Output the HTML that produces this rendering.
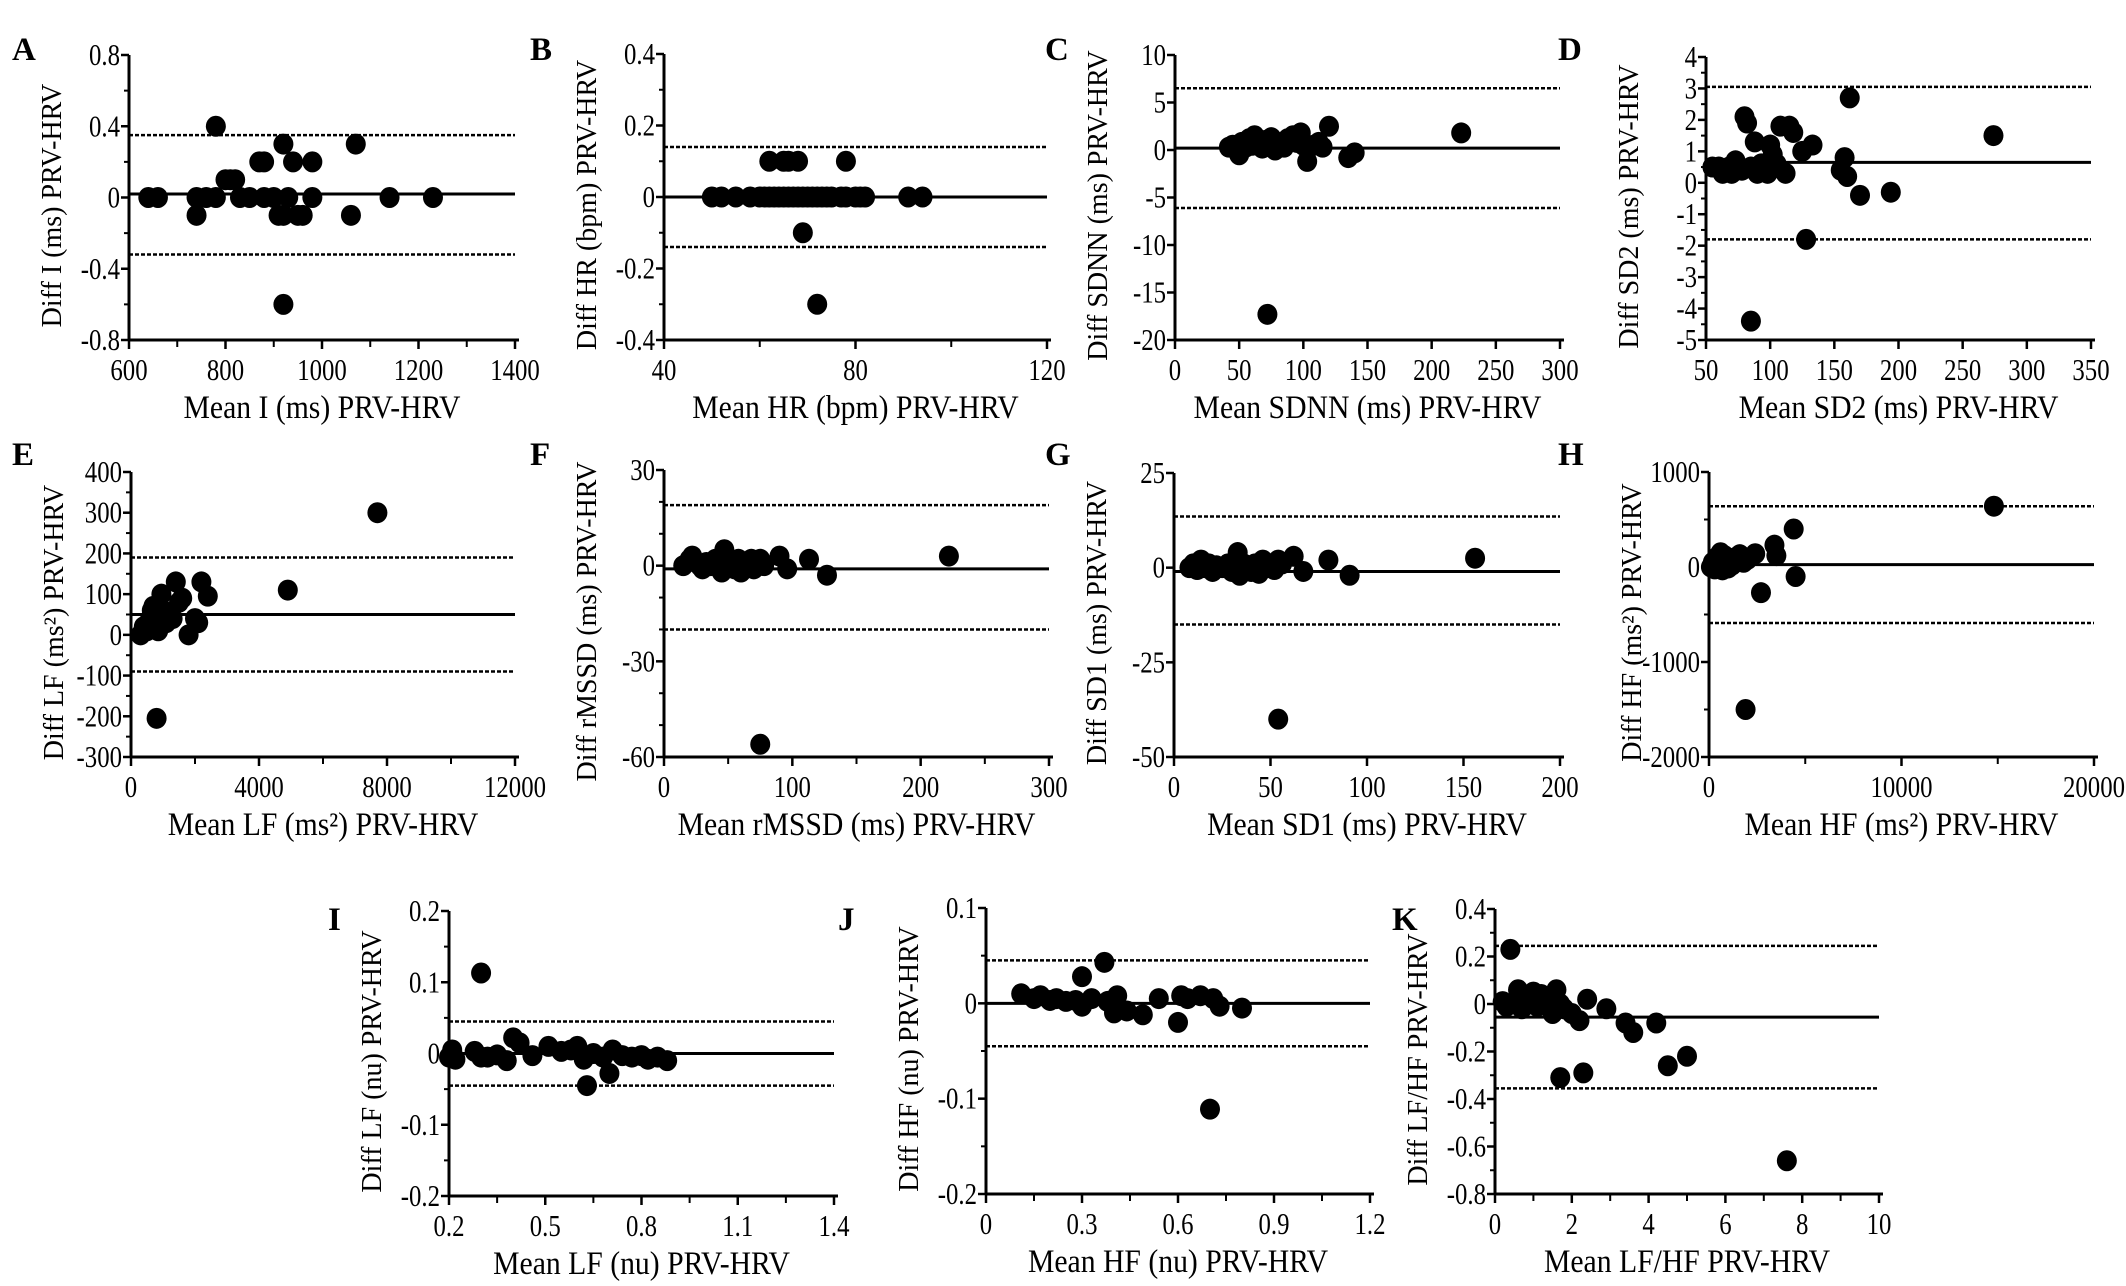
<!DOCTYPE html>
<html><head><meta charset="utf-8"><style>
html,body{margin:0;padding:0;background:#fff;}
svg{display:block;font-family:"Liberation Serif",serif;}
</style></head><body>
<svg id="fig" width="2126" height="1286" viewBox="0 0 2126 1286" xmlns="http://www.w3.org/2000/svg"></svg>
<script>
// ---- data arrays ----
const A_x=[640,660,740,740,760,780,780,800,810,820,830,850,870,880,880,900,910,920,920,930,940,950,960,980,980,920,1060,1070,1140,1230];
const A_y=[0,0,0,-0.1,0,0,0.4,0.1,0.1,0.1,0,0,0.2,0.2,0,0,-0.1,0.3,-0.1,0,0.2,-0.1,-0.1,0.2,0,-0.6,-0.1,0.3,0,0];
const A_lines=[0.02,0.35,-0.32];
const A_xTicks=[600,800,1000,1200,1400];
const A_yTicks=[-0.8,-0.4,0,0.4,0.8];

const B_x=[50,52,55,58,60,61,62,63,64,65,66,67,68,69,70,71,72,73,74,75,77,78,80,81,82,91,94,62,65,66,68,78,69,72];
const B_y=[0,0,0,0,0,0,0,0,0,0,0,0,0,0,0,0,0,0,0,0,0,0,0,0,0,0,0,0.1,0.1,0.1,0.1,0.1,-0.1,-0.3];
const B_lines=[0,0.14,-0.14];
const B_xTicks=[40,80,120];
const B_yTicks=[-0.4,-0.2,0,0.2,0.4];

const C_x=[42,45,48,50,52,55,58,60,62,65,68,70,72,75,78,80,85,88,92,95,98,100,103,108,112,115,120,135,140,72,223];
const C_y=[0.3,0.5,0.2,-0.5,0.8,0.3,1.2,0.5,1.5,0.8,0.2,1.0,0.5,1.3,0,0.8,0.3,1.2,1.5,0.8,1.8,0.5,-1.2,0.5,0.8,0.3,2.5,-0.8,-0.3,-17.3,1.8];
const C_lines=[0.2,6.5,-6.1];
const C_xTicks=[0,50,100,150,200,250,300];
const C_yTicks=[-20,-15,-10,-5,0,5,10];

const D_x=[55,60,63,68,70,73,78,80,82,85,88,90,93,95,98,100,102,105,108,112,115,118,125,133,155,158,160,162,170,194,128,85,274];
const D_y=[0.5,0.5,0.3,0.5,0.3,0.7,0.4,2.1,1.9,0.5,1.3,0.3,0.6,0.5,0.3,1.2,0.9,0.6,1.8,0.3,1.8,1.6,1.0,1.2,0.4,0.8,0.2,2.7,-0.4,-0.3,-1.8,-4.4,1.5];
const D_lines=[0.65,3.05,-1.8];
const D_xTicks=[50,100,150,200,250,300,350];
const D_yTicks=[-5,-4,-3,-2,-1,0,1,2,3,4];

const E_x=[300,400,500,600,650,700,750,800,850,900,950,1000,1100,1200,1300,1400,1500,1600,1800,2000,2100,2200,2400,4900,7700,800];
const E_y=[0,20,10,40,60,70,30,50,10,40,100,60,30,50,40,130,80,90,0,40,30,130,95,110,300,-205];
const E_lines=[50,190,-90];
const E_xTicks=[0,4000,8000,12000];
const E_yTicks=[-300,-200,-100,0,100,200,300,400];

const F_x=[15,20,22,25,28,30,33,36,40,42,45,47,48,50,52,55,58,60,62,65,68,70,72,75,78,90,96,113,127,222,75];
const F_y=[0,2,3,1,0,-1,1,0,2,0,-2,5,2,0,1,-1,2,-2,1,0,2,-1,1,2,0,3,-1,2,-3,3,-56];
const F_lines=[-1,19,-20];
const F_xTicks=[0,100,200,300];
const F_yTicks=[-60,-30,0,30];

const G_x=[8,10,12,14,16,18,20,22,25,28,30,32,33,34,36,38,40,42,44,46,48,50,52,54,56,62,67,80,91,156,54];
const G_y=[0,1,-0.5,2,0,1,-1,0.5,0,1,-1,2,4,-2,1,0,-1,1,-1.5,2,0,1,-0.5,2,1,3,-1,2,-2,2.5,-40];
const G_lines=[-1,13.5,-15];
const G_xTicks=[0,50,100,150,200];
const G_yTicks=[-50,-25,0,25];

const H_x=[100,200,300,400,500,600,700,800,900,1000,1100,1200,1400,1600,1800,2000,2400,2700,3400,3500,4400,4500,14800,1900];
const H_y=[0,50,-20,100,30,150,-30,120,40,-10,80,20,100,130,50,80,140,-270,230,120,400,-100,640,-1500];
const H_lines=[25,640,-590];
const H_xTicks=[0,10000,20000];
const H_yTicks=[-2000,-1000,0,1000];

const I_x=[0.2,0.21,0.22,0.28,0.3,0.3,0.32,0.35,0.38,0.4,0.42,0.46,0.51,0.55,0.58,0.6,0.62,0.63,0.65,0.68,0.7,0.71,0.74,0.77,0.8,0.82,0.85,0.88];
const I_y=[-0.005,0.005,-0.008,0.003,-0.005,0.113,-0.005,-0.002,-0.01,0.022,0.015,-0.003,0.01,0.003,0.005,0.01,-0.008,-0.045,0,-0.005,-0.028,0.005,-0.003,-0.005,-0.003,-0.008,-0.005,-0.01];
const I_lines=[0,0.045,-0.045];
const I_xTicks=[0.2,0.5,0.8,1.1,1.4];
const I_yTicks=[-0.2,-0.1,0,0.1,0.2];

const J_x=[0.11,0.15,0.17,0.2,0.22,0.25,0.28,0.3,0.3,0.33,0.37,0.38,0.4,0.41,0.44,0.49,0.54,0.6,0.61,0.63,0.67,0.71,0.73,0.8,0.7];
const J_y=[0.01,0.005,0.008,0.003,0.005,0.002,0.003,0.028,-0.003,0.005,0.043,0.002,-0.01,0.008,-0.008,-0.012,0.005,-0.02,0.008,0.005,0.008,0.005,-0.003,-0.005,-0.111];
const J_lines=[0,0.045,-0.045];
const J_xTicks=[0,0.3,0.6,0.9,1.2];
const J_yTicks=[-0.2,-0.1,0,0.1];

const K_x=[0.2,0.3,0.4,0.5,0.6,0.7,0.8,0.9,1.0,1.1,1.2,1.4,1.5,1.6,1.7,1.8,2.0,2.2,2.4,2.9,3.4,3.6,4.2,4.5,5.0,1.7,2.3,7.6];
const K_y=[0.01,-0.01,0.23,0,0.06,-0.02,0.03,0,0.05,-0.01,0.04,0.03,-0.04,0.06,0,-0.02,-0.04,-0.07,0.02,-0.02,-0.08,-0.12,-0.08,-0.26,-0.22,-0.31,-0.29,-0.66];
const K_lines=[-0.055,0.245,-0.355];
const K_xTicks=[0,2,4,6,8,10];
const K_yTicks=[-0.8,-0.6,-0.4,-0.2,0,0.2,0.4];

// ---- layout ----
const panels=[
 {id:'a',L:'A',lx:12,ly:60,x0:129,x1:515,y0:55,y1:340,xs:A_x,ys:A_y,ln:A_lines,xt:A_xTicks,yt:A_yTicks,xm:2,ym:2,xl:'Mean I (ms) PRV-HRV',yl:'Diff I (ms) PRV-HRV'},
 {id:'b',L:'B',lx:530,ly:60,x0:664,x1:1047,y0:54,y1:340,xs:B_x,ys:B_y,ln:B_lines,xt:B_xTicks,yt:B_yTicks,xm:2,ym:2,xl:'Mean HR (bpm) PRV-HRV',yl:'Diff HR (bpm) PRV-HRV'},
 {id:'c',L:'C',lx:1045,ly:60,x0:1175,x1:1560,y0:55,y1:340,xs:C_x,ys:C_y,ln:C_lines,xt:C_xTicks,yt:C_yTicks,xm:1,ym:1,xl:'Mean SDNN (ms) PRV-HRV',yl:'Diff SDNN (ms) PRV-HRV'},
 {id:'d',L:'D',lx:1558,ly:60,x0:1706,x1:2091,y0:57,y1:340,xs:D_x,ys:D_y,ln:D_lines,xt:D_xTicks,yt:D_yTicks,xm:1,ym:2,xl:'Mean SD2 (ms) PRV-HRV',yl:'Diff SD2 (ms) PRV-HRV'},
 {id:'e',L:'E',lx:12,ly:465,x0:131,x1:515,y0:472,y1:757,xs:E_x,ys:E_y,ln:E_lines,xt:E_xTicks,yt:E_yTicks,xm:2,ym:2,xl:'Mean LF (ms²) PRV-HRV',yl:'Diff LF (ms²) PRV-HRV'},
 {id:'f',L:'F',lx:530,ly:465,x0:664,x1:1049,y0:470,y1:757,xs:F_x,ys:F_y,ln:F_lines,xt:F_xTicks,yt:F_yTicks,xm:2,ym:3,xl:'Mean rMSSD (ms) PRV-HRV',yl:'Diff rMSSD (ms) PRV-HRV'},
 {id:'g',L:'G',lx:1045,ly:465,x0:1174,x1:1560,y0:473,y1:757,xs:G_x,ys:G_y,ln:G_lines,xt:G_xTicks,yt:G_yTicks,xm:1,ym:1,xl:'Mean SD1 (ms) PRV-HRV',yl:'Diff SD1 (ms) PRV-HRV'},
 {id:'h',L:'H',lx:1558,ly:465,x0:1709,x1:2094,y0:472,y1:757,xs:H_x,ys:H_y,ln:H_lines,xt:H_xTicks,yt:H_yTicks,xm:2,ym:2,xl:'Mean HF (ms²) PRV-HRV',yl:'Diff HF (ms²) PRV-HRV'},
 {id:'i',L:'I',lx:328,ly:930,x0:449,x1:834,y0:911,y1:1196,xs:I_x,ys:I_y,ln:I_lines,xt:I_xTicks,yt:I_yTicks,xm:2,ym:2,xl:'Mean LF (nu) PRV-HRV',yl:'Diff LF (nu) PRV-HRV'},
 {id:'j',L:'J',lx:838,ly:930,x0:986,x1:1370,y0:908,y1:1194,xs:J_x,ys:J_y,ln:J_lines,xt:J_xTicks,yt:J_yTicks,xm:2,ym:2,xl:'Mean HF (nu) PRV-HRV',yl:'Diff HF (nu) PRV-HRV'},
 {id:'k',L:'K',lx:1392,ly:930,x0:1495,x1:1879,y0:909,y1:1194,xs:K_x,ys:K_y,ln:K_lines,xt:K_xTicks,yt:K_yTicks,xm:2,ym:2,xl:'Mean LF/HF PRV-HRV',yl:'Diff LF/HF PRV-HRV'}
];
const NS='http://www.w3.org/2000/svg';
const svg=document.getElementById('fig');
function mk(tag,attrs,parent){const e=document.createElementNS(NS,tag);for(const k in attrs)e.setAttribute(k,attrs[k]);(parent||svg).appendChild(e);return e;}
function fmt(v){return String(Math.round(v*1000)/1000);}
panels.forEach(p=>{
  const g=mk('g',{});
  
  
  const xmin=p.xt[0],xmax=p.xt[p.xt.length-1],ymin=p.yt[0],ymax=p.yt[p.yt.length-1];
  const sx=v=>p.x0+(v-xmin)/(xmax-xmin)*(p.x1-p.x0);
  const sy=v=>p.y1-(v-ymin)/(ymax-ymin)*(p.y1-p.y0);
  const L=mk('text',{x:p.lx,y:p.ly,'font-size':33,'font-weight':'bold'},g);L.textContent=p.L;
  
  
  const ya=mk('line',{x1:p.x0,y1:p.y0,x2:p.x0,y2:p.y1,stroke:'#000','stroke-width':3},g);
  
  
  const xa=mk('line',{x1:p.x0,y1:p.y1,x2:p.x1+4,y2:p.y1,stroke:'#000','stroke-width':3},g);
  
  
  for(let i=0;i<p.yt.length;i++){
    const v=p.yt[i],y=sy(v);
    mk('line',{x1:p.x0-8,y1:y,x2:p.x0,y2:y,stroke:'#000','stroke-width':2.5},g);
    if(i<p.yt.length-1){const st=(p.yt[i+1]-v)/p.ym;for(let k=1;k<p.ym;k++){const yy=sy(v+st*k);mk('line',{x1:p.x0-5,y1:yy,x2:p.x0,y2:yy,stroke:'#000','stroke-width':2},g);}}
    const t=mk('text',{transform:`translate(${p.x0-9},${y+10}) scale(0.8,1)`,'font-size':31,'text-anchor':'end'},g);
    t.textContent=fmt(v);
    
    
  }
  for(let i=0;i<p.xt.length;i++){
    const v=p.xt[i],x=sx(v);
    mk('line',{x1:x,y1:p.y1,x2:x,y2:p.y1+9,stroke:'#000','stroke-width':2.5},g);
    if(i<p.xt.length-1){const st=(p.xt[i+1]-v)/p.xm;for(let k=1;k<p.xm;k++){const xx=sx(v+st*k);mk('line',{x1:xx,y1:p.y1,x2:xx,y2:p.y1+7,stroke:'#000','stroke-width':2},g);}}
    const t=mk('text',{transform:`translate(${x},${p.y1+40}) scale(0.8,1)`,'font-size':31,'text-anchor':'middle'},g);
    t.textContent=fmt(v);
    
    
  }
  p.ln.forEach((v,i)=>{
    const l=mk('line',{x1:p.x0,y1:sy(v),x2:p.x1,y2:sy(v),stroke:'#000','stroke-width':i===0?3:2.5},g);
    if(i>0)l.setAttribute('stroke-dasharray','4 2');
    
    
  });
  for(let i=0;i<p.xs.length;i++){
    const c=mk('ellipse',{cx:sx(p.xs[i]),cy:sy(p.ys[i]),rx:10,ry:10.5,fill:'#000'},g);
    
    
  }
  const xt=mk('text',{transform:`translate(${(p.x0+p.x1)/2},${p.y1+78}) scale(0.9,1)`,'font-size':33,'text-anchor':'middle'},g);
  xt.textContent=p.xl;
  
  
  const yt=mk('text',{transform:`translate(${p.x0-68},${(p.y0+p.y1)/2+8}) rotate(-90)`,'font-size':28,'text-anchor':'middle'},g);
  yt.textContent=p.yl;
  
  
});
</script>
</body></html>
